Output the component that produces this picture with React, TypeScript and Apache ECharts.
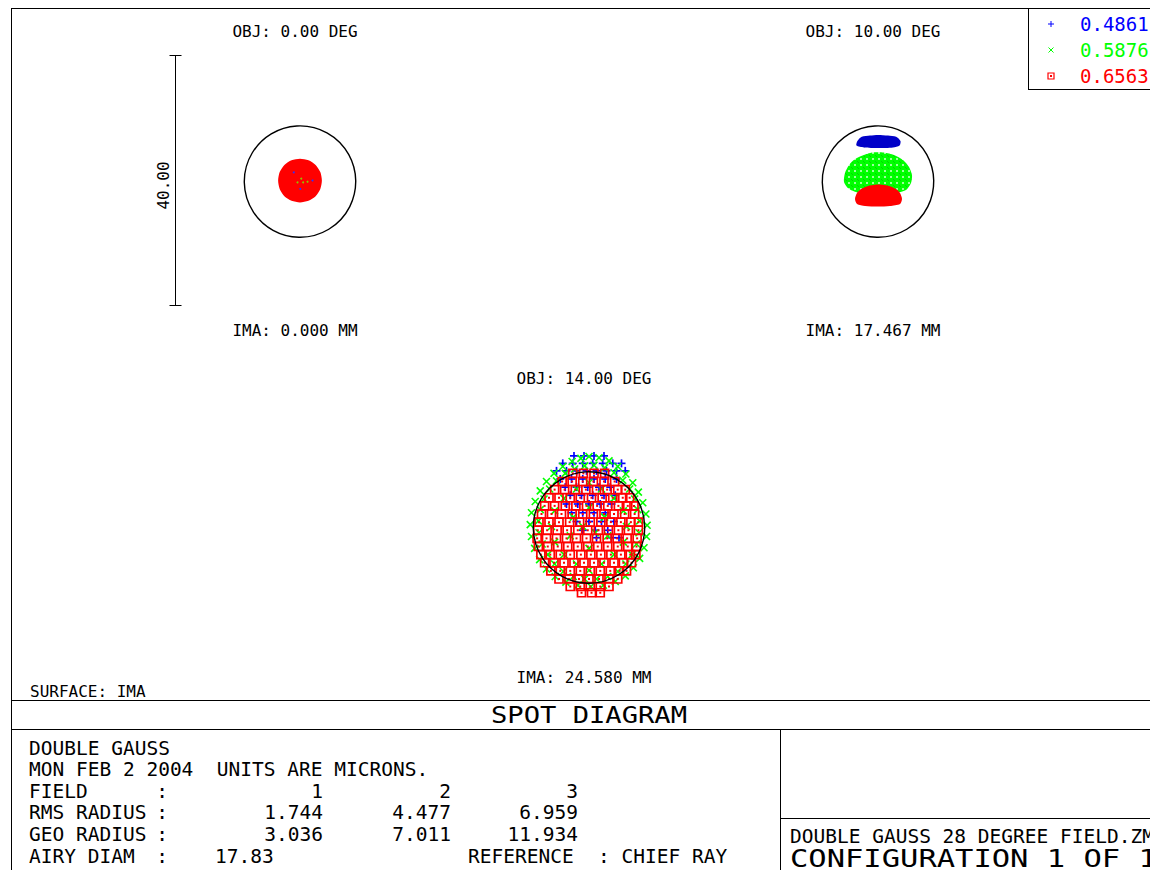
import React, { useEffect, useRef } from 'react';
import * as echarts from 'echarts';

// ---------- data ----------
const WAVELENGTHS = ['0.4861', '0.5876', '0.6563'];
const WAVE_COLORS = ['#0000ff', '#00ff00', '#ff0000'];
const FIELD_OBJ = ['OBJ: 0.00 DEG', 'OBJ: 10.00 DEG', 'OBJ: 14.00 DEG'];
const FIELD_IMA = ['IMA: 0.000 MM', 'IMA: 17.467 MM', 'IMA: 24.580 MM'];
const FIELD_NUM = ['1', '2', '3'];
const RMS_RADIUS = ['1.744', '4.477', '6.959'];
const GEO_RADIUS = ['3.036', '7.011', '11.934'];
const AIRY_DIAM = 17.83; // microns
const SCALE_BAR = 40; // microns
const SCALE_LABEL = '40.00';

// Field 1 (0 deg): spot envelope and a few visible points (microns, chief-ray centred)
const F1_RED_OUTLINE = [
  [0, 3.5], [1.35, 3.25], [2.5, 2.5], [3.25, 1.35], [3.5, 0], [3.25, -1.35], [2.5, -2.5], [1.35, -3.25],
  [0, -3.5], [-1.35, -3.25], [-2.5, -2.5], [-3.25, -1.35], [-3.5, 0], [-3.25, 1.35], [-2.5, 2.5], [-1.35, 3.25],
];
const F1_BLUE_PTS = [[-1.0, 1.3], [0.05, -1.35], [2.0, 0.0]];
const F1_GREEN_PTS = [[-0.4, -0.3], [0.5, -0.3], [1.2, -0.2], [0.2, 0.3]];

// Field 2 (10 deg): spot envelopes
const F2_BLUE_OUTLINE = [
  [-3.3, 6.32], [-2.6, 7.0], [-1.28, 7.2], [0, 7.3], [1.6, 7.2], [2.9, 7.0], [3.6, 6.32],
  [3.45, 5.6], [2.4, 5.3], [0, 5.2], [-2.24, 5.3], [-3.45, 5.6],
];
const F2_GREEN_OUTLINE = [
  [-2.24, 4.08], [-0.96, 4.48], [0.96, 4.48], [2.56, 4.08], [4.0, 3.28], [4.96, 2.16], [5.44, 0.88],
  [5.28, -0.4], [4.48, -1.52], [2.72, -2.0], [0, -2.16], [-2.88, -2.0], [-4.64, -1.36], [-5.44, -0.24],
  [-5.28, 1.2], [-4.64, 2.48], [-3.68, 3.44],
];
const F2_RED_OUTLINE = [
  [-1.28, -0.8], [0.32, -0.64], [1.76, -0.88], [2.88, -1.36], [3.52, -2.0], [3.84, -2.96], [3.52, -3.76],
  [1.92, -4.08], [0, -4.16], [-2.08, -4.08], [-3.36, -3.76], [-3.68, -2.96], [-3.36, -2.0], [-2.56, -1.28],
];

// Field 3 (14 deg): ray intercepts, rows of [y, [x...]] in microns
const F3_BLUE_ROWS: [number, number[]][] = [
  [11.3, [-2.4, -0.8, 0.8, 2.4]],
  [10.1, [-4.2, -2.6, -1.0, 0.6, 2.2, 3.8, 5.2]],
  [8.9, [-5.2, -3.6, -2.0, -0.4, 1.2, 2.8, 4.4, 5.8]],
  [7.6, [-4.6, -2.8, -1.0, 0.8, 2.6, 4.4]],
  [6.3, [-3.8, -2.0, -0.2, 1.6, 3.4]],
  [5.0, [-3.0, -1.2, 0.6, 2.4, 4.2]],
  [3.6, [-3.6, -1.8, 0.0, 1.8, 3.6]],
  [2.2, [-2.8, -1.0, 0.8, 2.6]],
  [0.8, [-2.0, 0.0, 2.0, 4.0]],
  [-0.6, [-1.0, 1.0, 3.0]],
  [-1.8, [1.2, 3.6, 4.8]],
];
const F3_GREEN_PTS = [
  [0, 11.2], [1.6, 11], [3.2, 10.5], [4.6, 9.6], [5.9, 8.4], [7, 7], [7.9, 5.5], [8.6, 3.8], [9.1, 2], [9.3, 0.2],
  [9.2, -1.6], [8.8, -3.4], [8.1, -5.1], [7.1, -6.6], [5.8, -7.9], [4.2, -8.8], [2.3, -9.4], [0.3, -9.6],
  [-1.8, -9.4], [-3.7, -8.9], [-5.4, -8], [-6.8, -6.8], [-7.9, -5.3], [-8.7, -3.5], [-9.2, -1.6], [-9.4, 0.3],
  [-9.2, 2.2], [-8.6, 4], [-7.8, 5.7], [-6.8, 7.2], [-5.6, 8.5], [-4.2, 9.6], [-2.7, 10.4], [-1.3, 10.9],
  [0.8, 9.8], [2.5, 9.4], [4, 8.6], [5.4, 7.4], [6.5, 6], [7.3, 4.4], [7.8, 2.7], [8.1, 0.9], [8, -1],
  [7.6, -2.8], [6.9, -4.5], [5.9, -6], [4.6, -7.2], [3, -8], [1.2, -8.4], [-0.7, -8.4], [-2.5, -8],
  [-4.1, -7.2], [-5.5, -6], [-6.6, -4.5], [-7.5, -2.8], [-8, -1], [-8.1, 0.9], [-7.8, 2.7], [-7.2, 4.4],
  [-6.3, 6], [-5.2, 7.3], [-3.8, 8.5], [-2.3, 9.2], [-0.7, 9.7],
  [0, 7], [-2, 6], [2, 6], [-4, 4.5], [4, 4.5], [-5.5, 2.5], [5.5, 2.5], [-6, 0], [6, 0], [-5.5, -2.5],
  [5.5, -2.5], [-4, -4.5], [4, -4.5], [-2, -6], [2, -6], [0, -7], [0, 3], [-2.5, 1.5], [2.5, 1.5],
  [-3, -1.5], [3, -1.5], [0, -3.5], [-1, 0], [1, -1],
];
const F3_RED_ROWS: [number, number[]][] = [
  [8.5, [-2.6, -0.9, 0.8, 2.5]],
  [7.2, [-4.3, -2.7, -1.0, 0.7, 2.4, 4.1]],
  [5.9, [-5.5, -3.9, -2.2, -0.5, 1.2, 2.9, 4.6, 5.8]],
  [4.6, [-6.4, -4.8, -3.0, -1.4, 0.4, 2.1, 3.8, 5.4, 6.5]],
  [3.3, [-7.1, -5.5, -3.8, -2.1, -0.4, 1.3, 3.0, 4.7, 6.2, 7.2]],
  [2.0, [-7.6, -6.0, -4.4, -2.7, -1.0, 0.7, 2.4, 4.0, 5.7, 7.3]],
  [0.7, [-8.0, -6.4, -4.8, -3.1, -1.5, 0.2, 1.9, 3.5, 5.1, 6.7, 7.9]],
  [-0.6, [-8.2, -6.7, -5.1, -3.5, -1.8, -0.2, 1.5, 3.1, 4.7, 6.3, 7.9]],
  [-1.9, [-8.3, -6.8, -5.2, -3.6, -2.0, -0.4, 1.2, 2.9, 4.5, 6.1, 7.7]],
  [-3.2, [-8.1, -6.6, -5.0, -3.4, -1.8, -0.2, 1.4, 3.0, 4.6, 6.2, 7.6]],
  [-4.5, [-7.7, -6.2, -4.6, -3.0, -1.3, 0.3, 1.9, 3.5, 5.1, 6.6, 7.5]],
  [-5.8, [-7.1, -5.6, -4.0, -2.4, -0.8, 0.8, 2.4, 4.0, 5.5, 6.8]],
  [-7.1, [-6.1, -4.6, -3.0, -1.4, 0.2, 1.8, 3.4, 4.9, 6.0]],
  [-8.4, [-4.8, -3.2, -1.6, 0.0, 1.6, 3.2, 4.6]],
  [-9.6, [-3.0, -1.4, 0.2, 1.8, 3.2]],
  [-10.6, [-1.2, 0.4, 1.8]],
];

// ---------- layout ----------
const FONT = '"DejaVu Sans Mono", monospace';
const GRID_CENTERS = [[300, 180.5], [878, 180.5], [589, 526.5]];
const HALF_PX = 125;
const AXIS_HALF = 20;

const rowsToPoints = (rows: [number, number[]][]) => {
  const out: number[][] = [];
  rows.forEach(([y, xs]) => xs.forEach((x) => out.push([x, y])));
  return out;
};

function markerSeries(gi: number, pts: number[][], kind: string, color: string) {
  return {
    type: 'custom',
    coordinateSystem: 'cartesian2d',
    xAxisIndex: gi,
    yAxisIndex: gi,
    silent: true,
    data: pts,
    renderItem: (_p: any, api: any) => {
      const c = api.coord([api.value(0), api.value(1)]);
      const x = c[0];
      const y = c[1];
      if (kind === 'plus') {
        const st = { stroke: color, lineWidth: 1.7, fill: 'none' };
        return {
          type: 'group',
          children: [
            { type: 'line', shape: { x1: x - 4, y1: y, x2: x + 4, y2: y }, style: st },
            { type: 'line', shape: { x1: x, y1: y - 4, x2: x, y2: y + 4 }, style: st },
          ],
        };
      }
      if (kind === 'cross') {
        const st = { stroke: color, lineWidth: 1.6, fill: 'none' };
        return {
          type: 'group',
          children: [
            { type: 'line', shape: { x1: x - 3.5, y1: y - 3.5, x2: x + 3.5, y2: y + 3.5 }, style: st },
            { type: 'line', shape: { x1: x - 3.5, y1: y + 3.5, x2: x + 3.5, y2: y - 3.5 }, style: st },
          ],
        };
      }
      if (kind === 'square') {
        return {
          type: 'group',
          children: [
            { type: 'rect', shape: { x: x - 4, y: y - 4, width: 8, height: 8 }, style: { stroke: color, lineWidth: 1.7, fill: 'none' } },
            { type: 'rect', shape: { x: x - 1, y: y - 1, width: 2, height: 2 }, style: { fill: color } },
          ],
        };
      }
      return { type: 'circle', shape: { cx: x, cy: y, r: 1 }, style: { fill: color } };
    },
  };
}

function blobSeries(gi: number, outline: number[][], fill: any) {
  return {
    type: 'custom',
    coordinateSystem: 'cartesian2d',
    xAxisIndex: gi,
    yAxisIndex: gi,
    silent: true,
    data: outline,
    renderItem: (p: any, api: any) => {
      if (p.dataIndex !== 0) return { type: 'group', children: [] };
      const pts = outline.map((v) => api.coord(v));
      return { type: 'polygon', shape: { points: pts, smooth: 0.25 }, style: { fill } };
    },
  };
}

function airySeries(gi: number) {
  return {
    type: 'custom',
    coordinateSystem: 'cartesian2d',
    xAxisIndex: gi,
    yAxisIndex: gi,
    silent: true,
    z: 10,
    data: [[0, 0]],
    renderItem: (_p: any, api: any) => {
      const c = api.coord([0, 0]);
      const r = api.size([AIRY_DIAM / 2, 0])[0];
      return { type: 'circle', shape: { cx: c[0], cy: c[1], r }, style: { fill: 'none', stroke: '#000', lineWidth: 1.4 } };
    },
  };
}

function scaleBarSeries() {
  return {
    type: 'custom',
    coordinateSystem: 'cartesian2d',
    xAxisIndex: 0,
    yAxisIndex: 0,
    silent: true,
    data: [[-AXIS_HALF, -SCALE_BAR / 2], [-AXIS_HALF, SCALE_BAR / 2]],
    renderItem: (p: any, api: any) => {
      if (p.dataIndex !== 0) return { type: 'group', children: [] };
      const a = api.coord([-AXIS_HALF, -SCALE_BAR / 2]);
      const b = api.coord([-AXIS_HALF, SCALE_BAR / 2]);
      const x = Math.round(a[0]) + 0.5;
      const st = { stroke: '#000', lineWidth: 1 };
      return {
        type: 'group',
        children: [
          { type: 'line', shape: { x1: x, y1: a[1], x2: x, y2: b[1] }, style: st },
          { type: 'line', shape: { x1: x - 6, y1: a[1], x2: x + 6, y2: a[1] }, style: st },
          { type: 'line', shape: { x1: x - 6, y1: b[1], x2: x + 6, y2: b[1] }, style: st },
        ],
      };
    },
  };
}

const txt = (text: string, x: number, y: number, size: number, opts: any = {}) => ({
  type: 'text',
  x,
  y,
  rotation: opts.rotation || 0,
  scaleX: opts.scaleX || 1,
  silent: true,
  style: {
    text,
    fill: opts.color || '#000',
    fontFamily: FONT,
    fontSize: size,
    align: opts.align || 'left',
    textAlign: opts.align || 'left',
    verticalAlign: 'middle',
    textVerticalAlign: 'middle',
  },
});

const ln = (x1: number, y1: number, x2: number, y2: number, color = '#000', w = 1) => ({
  type: 'line',
  silent: true,
  shape: { x1, y1, x2, y2 },
  style: { stroke: color, lineWidth: w },
});

export default function App() {
  const ref = useRef<HTMLDivElement>(null);
  useEffect(() => {
    document.body.style.margin = '0';
    if (!ref.current) return;
    const chart = echarts.init(ref.current, undefined, { renderer: 'svg' });

    // hatch-like texture for the dense green spot of field 2
    const cv = document.createElement('canvas');
    cv.width = 6;
    cv.height = 6;
    const ctx = cv.getContext('2d');
    let greenFill: any = '#00ff00';
    if (ctx) {
      ctx.fillStyle = '#00ff00';
      ctx.fillRect(0, 0, 6, 6);
      ctx.fillStyle = '#9cff9c';
      ctx.fillRect(2, 2, 2, 2);
      ctx.fillStyle = '#00d800';
      ctx.fillRect(0, 0, 1, 1);
      ctx.fillRect(5, 5, 1, 1);
      greenFill = { image: cv, repeat: 'repeat' };
    }

    const grids = GRID_CENTERS.map(([cx, cy]) => ({
      left: cx - HALF_PX,
      top: cy - HALF_PX,
      width: HALF_PX * 2,
      height: HALF_PX * 2,
      containLabel: false,
    }));
    const axis = (i: number) => ({ type: 'value', gridIndex: i, min: -AXIS_HALF, max: AXIS_HALF, show: false });

    const series: any[] = [
      scaleBarSeries(),
      // field 1
      blobSeries(0, F1_RED_OUTLINE, WAVE_COLORS[2]),
      markerSeries(0, F1_BLUE_PTS, 'dot', '#3030ff'),
      markerSeries(0, F1_GREEN_PTS, 'dot', '#90c000'),
      airySeries(0),
      // field 2
      blobSeries(1, F2_BLUE_OUTLINE, '#0000c8'),
      blobSeries(1, F2_GREEN_OUTLINE, greenFill),
      blobSeries(1, F2_RED_OUTLINE, WAVE_COLORS[2]),
      airySeries(1),
      // field 3
      markerSeries(2, rowsToPoints(F3_BLUE_ROWS), 'plus', WAVE_COLORS[0]),
      markerSeries(2, F3_GREEN_PTS, 'cross', WAVE_COLORS[1]),
      markerSeries(2, rowsToPoints(F3_RED_ROWS), 'square', WAVE_COLORS[2]),
      airySeries(2),
    ];

    const graphic: any[] = [
      // frame
      ln(11.5, 8, 11.5, 870),
      ln(11, 8.5, 1150, 8.5),
      ln(11, 700.5, 1150, 700.5),
      ln(11, 729.5, 1150, 729.5),
      ln(780.5, 729, 780.5, 870),
      ln(780, 818.5, 1150, 818.5),
      // legend box
      ln(1028.5, 8, 1028.5, 89.5),
      ln(1028, 89.5, 1150, 89.5),
      // legend markers
      ln(1048, 24, 1054, 24, WAVE_COLORS[0]),
      ln(1051, 21, 1051, 27, WAVE_COLORS[0]),
      ln(1048.5, 47.5, 1053.5, 52.5, WAVE_COLORS[1]),
      ln(1048.5, 52.5, 1053.5, 47.5, WAVE_COLORS[1]),
      { type: 'rect', silent: true, shape: { x: 1048, y: 73, width: 6, height: 6 }, style: { fill: 'none', stroke: WAVE_COLORS[2], lineWidth: 1.2 } },
      { type: 'rect', silent: true, shape: { x: 1050, y: 75, width: 2, height: 2 }, style: { fill: WAVE_COLORS[2] } },
      ...WAVELENGTHS.map((w, i) => txt(w, 1080, 24 + i * 26, 19, { color: WAVE_COLORS[i] })),
      // field labels
      txt(FIELD_OBJ[0], 295, 31, 16, { align: 'center' }),
      txt(FIELD_OBJ[1], 873, 31, 16, { align: 'center' }),
      txt(FIELD_IMA[0], 295, 330, 16, { align: 'center' }),
      txt(FIELD_IMA[1], 873, 330, 16, { align: 'center' }),
      txt(FIELD_OBJ[2], 584, 378, 16, { align: 'center' }),
      txt(FIELD_IMA[2], 584, 677, 16, { align: 'center' }),
      txt(SCALE_LABEL, 163.5, 185.5, 16, { align: 'center', rotation: Math.PI / 2 }),
      txt('SURFACE: IMA', 30, 691, 16),
      // title
      txt('SPOT DIAGRAM', 491, 715, 23, { scaleX: 1.18 }),
      // info rows
      txt('DOUBLE GAUSS', 29, 748, 19.5),
      txt('MON FEB 2 2004  UNITS ARE MICRONS.', 29, 769, 19.5),
      txt('FIELD', 29, 791, 19.5),
      txt('RMS RADIUS', 29, 812, 19.5),
      txt('GEO RADIUS', 29, 834, 19.5),
      txt('AIRY DIAM', 29, 856, 19.5),
      ...[791, 812, 834, 856].map((y) => txt(':', 162, y, 19.5, { align: 'center' })),
      ...FIELD_NUM.map((v, i) => txt(v, [323, 451, 578][i], 791, 19.5, { align: 'right' })),
      ...RMS_RADIUS.map((v, i) => txt(v, [323, 451, 578][i], 812, 19.5, { align: 'right' })),
      ...GEO_RADIUS.map((v, i) => txt(v, [323, 451, 578][i], 834, 19.5, { align: 'right' })),
      txt(AIRY_DIAM.toFixed(2), 215, 856, 19.5),
      txt('REFERENCE', 468, 856, 19.5),
      txt(': CHIEF RAY', 598, 856, 19.5),
      // right box
      txt('DOUBLE GAUSS 28 DEGREE FIELD.ZMX', 790, 836, 19.5),
      txt('CONFIGURATION 1 OF 1', 790, 859, 24, { scaleX: 1.27 }),
    ];

    chart.setOption({
      animation: false,
      backgroundColor: '#ffffff',
      grid: grids,
      xAxis: grids.map((_, i) => axis(i)),
      yAxis: grids.map((_, i) => axis(i)),
      series,
      graphic,
    });
    return () => chart.dispose();
  }, []);
  return <div ref={ref} style={{ width: 1150, height: 870 }} />;
}
